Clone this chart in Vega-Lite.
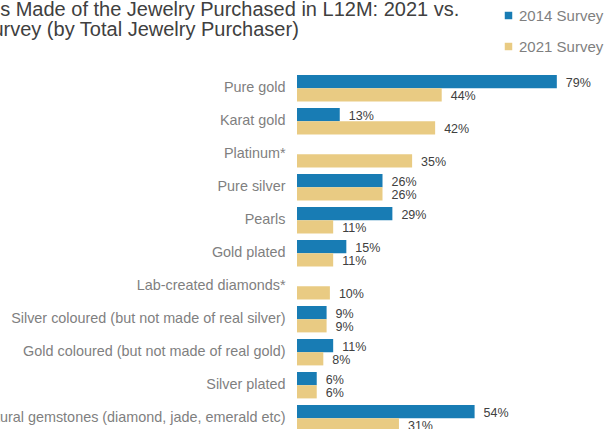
{
  "$schema": "https://vega.github.io/schema/vega-lite/v6.json",
  "width": 296,
  "height": 357,
  "autosize": {"type": "none"},
  "padding": {"left": 297, "top": 72, "right": 12, "bottom": 0},
  "background": "white",
  "title": {
    "text": ["Materials Made of the Jewelry Purchased in L12M: 2021 vs.", "2014 Survey (by Total Jewelry Purchaser)"],
    "anchor": "start",
    "frame": "group",
    "dx": -368,
    "dy": 0,
    "fontSize": 20,
    "fontWeight": "normal",
    "font": "Liberation Sans",
    "color": "#404040",
    "lineHeight": 20,
    "baseline": "alphabetic",
    "offset": -48
  },
  "data": {
    "values": [
      {"material": "Pure gold", "survey": "2014 Survey", "value": 0.79},
      {"material": "Pure gold", "survey": "2021 Survey", "value": 0.44},
      {"material": "Karat gold", "survey": "2014 Survey", "value": 0.13},
      {"material": "Karat gold", "survey": "2021 Survey", "value": 0.42},
      {"material": "Platinum*", "survey": "2021 Survey", "value": 0.35},
      {"material": "Pure silver", "survey": "2014 Survey", "value": 0.26},
      {"material": "Pure silver", "survey": "2021 Survey", "value": 0.26},
      {"material": "Pearls", "survey": "2014 Survey", "value": 0.29},
      {"material": "Pearls", "survey": "2021 Survey", "value": 0.11},
      {"material": "Gold plated", "survey": "2014 Survey", "value": 0.15},
      {"material": "Gold plated", "survey": "2021 Survey", "value": 0.11},
      {"material": "Lab-created diamonds*", "survey": "2021 Survey", "value": 0.10},
      {"material": "Silver coloured (but not made of real silver)", "survey": "2014 Survey", "value": 0.09},
      {"material": "Silver coloured (but not made of real silver)", "survey": "2021 Survey", "value": 0.09},
      {"material": "Gold coloured (but not made of real gold)", "survey": "2014 Survey", "value": 0.11},
      {"material": "Gold coloured (but not made of real gold)", "survey": "2021 Survey", "value": 0.08},
      {"material": "Silver plated", "survey": "2014 Survey", "value": 0.06},
      {"material": "Silver plated", "survey": "2021 Survey", "value": 0.06},
      {"material": "Natural gemstones (diamond, jade, emerald etc)", "survey": "2014 Survey", "value": 0.54},
      {"material": "Natural gemstones (diamond, jade, emerald etc)", "survey": "2021 Survey", "value": 0.31}
    ]
  },
  "encoding": {
    "y": {
      "field": "material",
      "type": "nominal",
      "sort": null,
      "scale": {"range": [3, 359.4], "paddingInner": 0.2, "paddingOuter": 0},
      "axis": {
        "title": null,
        "ticks": false,
        "domain": false,
        "labelPadding": 12,
        "labelFontSize": 14.4,
        "labelColor": "#7f7f7f",
        "labelFont": "Liberation Sans",
        "labelLimit": 1000
      }
    },
    "yOffset": {
      "field": "survey",
      "type": "nominal",
      "sort": ["2014 Survey", "2021 Survey"],
      "scale": {"paddingInner": 0, "paddingOuter": 0}
    },
    "x": {
      "field": "value",
      "type": "quantitative",
      "scale": {"domain": [0, 0.9]},
      "axis": null
    }
  },
  "layer": [
    {
      "mark": {"type": "bar"},
      "encoding": {
        "color": {
          "field": "survey",
          "type": "nominal",
          "scale": {"domain": ["2014 Survey", "2021 Survey"], "range": ["#187cb4", "#e9cb83"]},
          "legend": {
            "title": null,
            "orient": "none",
            "legendX": 204,
            "legendY": -64,
            "direction": "vertical",
            "symbolType": "square",
            "symbolSize": 56,
            "symbolStrokeWidth": 0,
            "labelFontSize": 15,
            "labelColor": "#7f7f7f",
            "labelFont": "Liberation Sans",
            "labelOffset": 3,
            "rowPadding": 15,
            "padding": 0,
            "labelLimit": 1000
          }
        }
      }
    },
    {
      "mark": {"type": "text", "align": "left", "baseline": "middle", "dx": 9, "dy": 1.5, "fontSize": 12.5, "color": "#404040", "font": "Liberation Sans"},
      "encoding": {
        "text": {"field": "value", "type": "quantitative", "format": ".0%"}
      }
    }
  ],
  "config": {"view": {"stroke": null}, "font": "Liberation Sans"}
}
